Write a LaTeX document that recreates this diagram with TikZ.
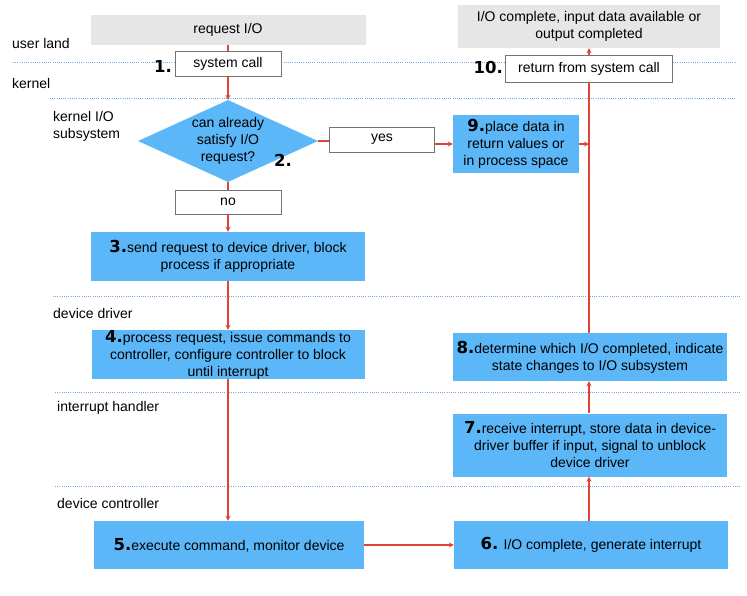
\documentclass[tikz,border=0pt]{standalone}
\usepackage{fontspec}
\setmainfont{Liberation Sans}
\newfontfamily\numfont{DejaVu Sans}
\usetikzlibrary{shapes.geometric}
\definecolor{boxblue}{RGB}{91,183,247}
\definecolor{boxgray}{RGB}{230,230,230}
\definecolor{flowred}{RGB}{222,67,52}
\definecolor{sepblue}{RGB}{110,168,220}
\newcommand{\stepno}[1]{{\numfont\fontsize{16.5}{17}\selectfont\bfseries #1}}
\tikzset{
  txt/.style={font=\fontsize{14}{17}\selectfont, align=center, inner sep=0pt},
  bluebox/.style={txt, fill=boxblue},
  whitebox/.style={txt, fill=white, draw=black!55, line width=0.7pt},
  graybox/.style={txt, fill=boxgray},
  layer/.style={font=\fontsize{14}{17}\selectfont, anchor=west, inner sep=0pt, align=left},
  sepline/.style={sepblue, line width=1pt, dash pattern=on 1pt off 1.2pt},
  flow/.style={flowred, line width=1.2pt},
}
\begin{document}
\begin{tikzpicture}[x=1pt, y=-1pt]
    \useasboundingbox (0,0) rectangle (747,595);
    % layer separators
    \draw[sepline] (13,62) -- (735,62);
    \draw[sepline] (50,98) -- (735,98);
    \draw[sepline] (53,296) -- (740,296);
    \draw[sepline] (55,392) -- (740,392);
    \draw[sepline] (55,486) -- (740,486);
    % layer names
    \node[layer] (userland) at (12,43) {user land};
    \node[layer] (kernel) at (12,83) {kernel};
    \node[layer] (kio) at (53,126) {kernel I/O\\subsystem};
    \node[layer] (driver) at (53,313) {device driver};
    \node[layer] (handler) at (57,408) {interrupt handler};
    \node[layer] (controller) at (57,503) {device controller};
    % left column
    \node[graybox, minimum width=275, minimum height=30] (req) at (228,30) {request I/O};
    \node[whitebox, minimum width=106, minimum height=25] (sys) at (228,63.5) {system call};
    \node[anchor=east, inner sep=1pt] (n1) at (173,66) {\stepno{1.}};
    \node[diamond, txt, fill=boxblue, minimum width=180, minimum height=82, aspect=2.2] (dia) at (228,141) {can already\\satisfy I/O\\request?};
    \node[inner sep=0pt] (n2) at (283,160) {\stepno{2.}};
    \node[whitebox, minimum width=106, minimum height=24] (no) at (228,202) {no};
    \node[whitebox, minimum width=105, minimum height=25] (yes) at (382,139.5) {yes};
    \node[bluebox, minimum width=274, minimum height=49] (b3) at (228,256.5) {\stepno{3.}send request to device driver, block\\process if appropriate};
    \node[bluebox, minimum width=273, minimum height=49] (b4) at (228,354.5) {\stepno{4.}process request, issue commands to\\controller, configure controller to block\\until interrupt};
    \node[bluebox, minimum width=270, minimum height=48] (b5) at (229,545) {\stepno{5.}execute command, monitor device};
    % right column
    \node[graybox, minimum width=262, minimum height=43] (done) at (589,26.5) {I/O complete, input data available or\\output completed};
    \node[whitebox, minimum width=167, minimum height=27] (ret) at (589,68.5) {return from system call};
    \node[anchor=east, inner sep=1pt] (n10) at (504,67) {\stepno{10.}};
    \node[bluebox, minimum width=126, minimum height=58] (b9) at (516,144) {\stepno{9.}place data in\\return values or\\in process space};
    \node[bluebox, minimum width=274, minimum height=48] (b8) at (590,357) {\stepno{8.}determine which I/O completed, indicate\\state changes to I/O subsystem};
    \node[bluebox, minimum width=274, minimum height=63] (b7) at (590,445) {\stepno{7.}receive interrupt, store data in device-\\driver buffer if input, signal to unblock\\device driver};
    \node[bluebox, minimum width=274, minimum height=48] (b6) at (591,545) {\stepno{6.} I/O complete, generate interrupt};
    % flow
    \draw[flow] (req) -- (sys);
    \draw[flow, -stealth] (sys) -- (dia);
    \draw[flow] (dia.east) -- (yes.west |- dia.east);
    \draw[flow] (dia) -- (no);
    \draw[flow, -stealth] (yes.east |- b9.west) -- (b9.west);
    \draw[flow, -stealth] (no) -- (b3);
    \draw[flow, -stealth] (b3) -- (b4);
    \draw[flow, -stealth] (b4) -- (b4 |- b5.north);
    \draw[flow, -stealth] (b5) -- (b6);
    \draw[flow, -stealth] (b6.north -| ret) -- (b7.south -| ret);
    \draw[flow, -stealth] (b7.north -| ret) -- (b8.south -| ret);
    \draw[flow] (b8.north -| ret) -- (ret);
    \draw[flow, -stealth] (b9.east) -- (b9.east -| ret);
    \draw[flow, -stealth] (ret) -- (done);
\end{tikzpicture}
\end{document}
